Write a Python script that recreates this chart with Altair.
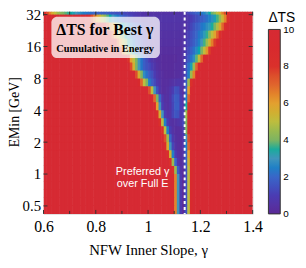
import altair as alt
import pandas as pd

# gamma cell edges (0.01 steps) and EMin row edges (quarter octaves)
gamma_edges = [round(0.60 + 0.01 * i, 2) for i in range(81)]
emin_edges = [0.4204, 0.5, 0.5946, 0.7071, 0.8409, 1.0, 1.1892, 1.4142, 1.6818,
              2.0, 2.3784, 2.8284, 3.3636, 4.0, 4.7568, 5.6569, 6.7272, 8.0,
              9.5137, 11.3137, 13.4543, 16.0, 19.0273, 22.6274, 26.9087, 32.0, 38.0546]

# per EMin row: first gamma column read inside the valley and the dTS values read there
# (everything outside is saturated at 10)
row_start = [49, 49, 49, 49, 49, 49, 48, 47, 46, 45, 45, 44, 43, 42, 41, 40, 36, 35, 33, 32,
             29, 27, 25, 23, 17, 0]
row_vals = [
    [9.5, 6.5, 3, 0.8, 0.1, 1.5, 5, 9],
    [9.5, 6.5, 3, 0.8, 0.1, 1.5, 5, 9],
    [9.5, 6.5, 3, 0.8, 0.1, 1.5, 5, 9],
    [9.5, 6.5, 3, 0.8, 0.1, 1.5, 5, 9],
    [9.5, 6.5, 3, 0.8, 0.1, 1.5, 5, 9],
    [8, 4.5, 1.8, 0.5, 0.2, 1.5, 5, 9],
    [8, 4.5, 2, 0.7, 0.3, 0.5, 2, 5.5, 9],
    [8.5, 5.5, 2.5, 1, 0.4, 0.3, 0.5, 2, 6, 9.5],
    [8.5, 5.5, 3, 1.2, 0.5, 0.3, 0.3, 0.6, 2.5, 7],
    [9.5, 7.5, 4.5, 2, 0.8, 0.4, 0.3, 0.3, 0.6, 3, 7.5],
    [8, 5, 2.5, 1, 0.5, 0.3, 0.3, 0.4, 0.8, 4, 8.5],
    [8, 5, 2.5, 1, 0.5, 0.4, 0.5, 0.6, 0.8, 1.2, 4, 8.5],
    [8.5, 5.5, 3, 1, 0.5, 0.6, 1.2, 1.6, 1.5, 0.8, 1, 4.5, 9],
    [9, 6, 3, 1, 0.5, 0.4, 0.6, 1.2, 1.8, 1.8, 1, 0.7, 3.5, 8],
    [9.5, 7, 4, 2, 0.8, 0.4, 0.4, 0.7, 1.3, 1.8, 1.7, 1, 0.5, 2.5, 7],
    [7.5, 5, 3, 1.5, 0.6, 0.3, 0.3, 0.4, 0.6, 1, 1.5, 1.4, 0.8, 0.4, 2, 6, 9.5],
    [9, 7, 5, 4, 2.5, 1.8, 1.3, 0.8, 0.5, 0.3, 0.3, 0.3, 0.4, 0.5, 0.6, 0.7, 0.7, 0.8,
     1.8, 4.5, 8],
    [7.5, 5.5, 4, 2.8, 2.2, 1.8, 1.5, 1, 0.6, 0.4, 0.3, 0.2, 0.2, 0.2, 0.2, 0.3, 0.3, 0.4,
     0.6, 1.5, 2.5, 4.5, 6.5, 9],
    [7.5, 5.5, 4, 3, 2.3, 1.8, 1.5, 1.3, 1, 0.7, 0.4, 0.3, 0.2, 0.2, 0.2, 0.2, 0.2, 0.3,
     0.3, 0.3, 0.5, 1.5, 2.2, 3.2, 4.5, 7, 9],
    [8, 6, 5, 4, 3, 2.3, 1.8, 1.4, 1, 0.7, 0.5, 0.3, 0.3, 0.2, 0.2, 0.2, 0.2, 0.2, 0.2,
     0.3, 0.3, 0.5, 1.2, 1.7, 2.2, 2.8, 3.8, 5.2, 7, 9],
    [8, 6.5, 5.5, 4.5, 3.8, 3.2, 2.6, 2.1, 1.7, 1.3, 1, 0.7, 0.5, 0.4, 0.3, 0.3, 0.3, 0.3,
     0.3, 0.3, 0.3, 0.3, 0.3, 0.3, 0.5, 1, 1.4, 1.8, 2.2, 2.7, 3.3, 4, 5, 6.2, 7.8, 9.5],
    [8.5, 7, 6, 5, 4.2, 3.5, 2.9, 2.4, 2, 1.6, 1.3, 1, 0.8, 0.6, 0.5, 0.4, 0.4, 0.4, 0.4,
     0.4, 0.4, 0.4, 0.4, 0.4, 0.4, 0.4, 0.5, 0.9, 1.2, 1.5, 1.8, 2.1, 2.5, 3, 3.7, 4.5,
     5.5, 6.6, 7.8, 9],
    [8.5, 7.2, 6.2, 5.4, 4.6, 4, 3.4, 2.9, 2.4, 2, 1.7, 1.4, 1.1, 0.9, 0.7, 0.6, 0.45,
     0.45, 0.45, 0.45, 0.45, 0.45, 0.45, 0.45, 0.45, 0.45, 0.45, 0.45, 0.45, 0.8, 1.1,
     1.4, 1.7, 2, 2.3, 2.6, 3.1, 3.6, 4.2, 5, 5.9, 7, 8.2, 9.5],
    [8.5, 7.3, 6.4, 5.6, 4.9, 4.3, 3.8, 3.3, 2.9, 2.5, 2.2, 1.9, 1.6, 1.4, 1.2, 1, 0.8,
     0.7, 0.55, 0.55, 0.55, 0.55, 0.55, 0.55, 0.55, 0.55, 0.55, 0.55, 0.55, 0.55, 0.55,
     0.55, 0.9, 1.2, 1.5, 1.8, 2, 2.3, 2.5, 2.8, 3.1, 3.5, 4, 4.8, 5.8, 7, 8.5, 9.8],
    [8.5, 7.5, 6.7, 6, 5.4, 4.8, 4.3, 3.8, 3.4, 3, 2.7, 2.4, 2.1, 1.8, 1.6, 1.4, 1.2, 1,
     0.9, 0.8, 0.7, 0.6, 0.6, 0.6, 0.6, 0.6, 0.6, 0.6, 0.6, 0.6, 0.6, 0.6, 0.6, 0.6, 0.6,
     0.6, 0.6, 0.6, 0.8, 1, 1.2, 1.4, 1.6, 1.8, 2, 2.2, 2.5, 2.8, 3.2, 3.7, 4.4, 5.3,
     6.5, 8, 9.5],
    [8.5, 7.5, 6.5, 5.6, 5, 4.5, 4.2, 4, 3.8, 3.6, 3.4, 3.2, 3, 2.8, 2.6, 2.4, 2.3, 2.2,
     2.1, 2, 1.95, 1.9, 1.85, 1.8, 1.75, 1.7, 1.6, 1.5, 1.45, 1.4, 1.3, 1.2, 1.1, 1, 0.9,
     0.8, 0.7, 0.6, 0.5, 0.5, 0.5, 0.5, 0.5, 0.5, 0.5, 0.5, 0.5, 0.5, 0.5, 0.5, 0.5, 0.5,
     0.5, 0.5, 0.8, 1.2, 1.5, 1.7, 1.9, 2.1, 2.3, 2.6, 3, 3.4, 3.9, 4.4, 5, 5.7, 6.6,
     7.6, 8.6, 9.5],
]

best_gamma = [1.14]
x_major = [0.6, 0.8, 1.0, 1.2, 1.4]
x_minor = [0.7, 0.9, 1.1, 1.3]
y_major = [0.5, 1, 2, 4, 8, 16, 32]
cbar_values = [0, 2, 4, 6, 8, 10]

recs = []
for k in range(len(emin_edges) - 1):
    for j in range(len(gamma_edges) - 1):
        v = 10.0
        i = j - row_start[k]
        if 0 <= i < len(row_vals[k]):
            v = row_vals[k][i]
        recs.append({"g0": gamma_edges[j], "g1": gamma_edges[j + 1],
                     "e0": emin_edges[k], "e1": emin_edges[k + 1], "v": v})
df = pd.DataFrame(recs)

W, H = 212, 205
serif = "Liberation Serif"
sans = "Liberation Sans"

xscale = alt.Scale(domain=[0.6, 1.4], nice=False, zero=False)
yscale = alt.Scale(type="log", domain=[0.4205, 34.1], nice=False)
cscale = alt.Scale(
    type="linear",
    domain=[-0.01, 1, 2, 3, 4, 5, 6, 7, 8, 9, 10.01],
    range=["#5a2996", "#4a3cb3", "#3966c8", "#4095bb", "#7db462", "#bdbd3e",
           "#e3a02f", "#e0652d", "#da302b", "#d82a2e", "#d62a33"],
)

x_axis = alt.Axis(title="NFW Inner Slope, γ", values=x_major, format="~g", ticks=False,
                  tickSize=0, domain=False, grid=False, labelFont=serif, labelFontSize=16,
                  labelColor="black", labelPadding=5, labelFlush=False, titleFont=serif,
                  titleFontSize=15, titleFontWeight="normal", titleColor="black",
                  titleY=41, titleBaseline="alphabetic")
y_axis = alt.Axis(title="EMin [GeV]", values=y_major, format="~g", ticks=False, tickSize=0,
                  domain=False, grid=False, labelFont=serif, labelFontSize=15,
                  labelColor="black", labelPadding=3, labelFlush=False, titleFont=serif,
                  titleFontSize=14, titleFontWeight="normal", titleColor="black",
                  titleX=-29, titleY=101.5, titleAngle=270, titleAlign="center",
                  titleBaseline="middle")

legend = alt.Legend(type="gradient", title="ΔTS", orient="none", legendX=228, legendY=-1,
                    direction="vertical", gradientLength=187, gradientThickness=12,
                    gradientStrokeColor="#333", gradientStrokeWidth=1, values=cbar_values,
                    labelFont=sans, labelFontSize=10, labelOffset=3, labelColor="black",
                    titleFont=sans, titleFontSize=14, titleFontWeight="normal",
                    titleColor="black", titlePadding=5, padding=0)

heat = alt.Chart(df).mark_rect(clip=True, x2Offset=0.6, y2Offset=-0.6).encode(
    x=alt.X("g0:Q", scale=xscale, axis=x_axis),
    x2="g1:Q",
    y=alt.Y("e0:Q", scale=yscale, axis=y_axis),
    y2="e1:Q",
    color=alt.Color("v:Q", scale=cscale, legend=legend),
)

dash = alt.Chart(pd.DataFrame({"g": best_gamma})).mark_rule(
    color="white", strokeDash=[3, 3], strokeWidth=2
).encode(x=alt.X("g:Q", scale=xscale, axis=x_axis))

tick_color = "#333"
xmaj = pd.DataFrame({"g": x_major})
xmin = pd.DataFrame({"g": x_minor})
ymaj = pd.DataFrame({"e": y_major})

def xticks(d, y0, y1):
    return alt.Chart(d).mark_rule(color=tick_color, strokeWidth=1).encode(
        x=alt.X("g:Q", scale=xscale, axis=x_axis), y=alt.value(y0), y2=alt.value(y1))

def yticks(d, x0, x1):
    return alt.Chart(d).mark_rule(color=tick_color, strokeWidth=1).encode(
        y=alt.Y("e:Q", scale=yscale, axis=y_axis), x=alt.value(x0), x2=alt.value(x1))

ticks = [xticks(xmaj, H, H - 4), xticks(xmaj, 0, 4), xticks(xmin, H, H - 3),
         xticks(xmin, 0, 3), yticks(ymaj, 0, 4), yticks(ymaj, W - 4, W)]

one = pd.DataFrame({"a": [0]})
box = alt.Chart(one).mark_rect(color="white", opacity=0.75, cornerRadius=6).encode(
    x=alt.value(8), x2=alt.value(118), y=alt.value(5), y2=alt.value(47))
t1 = alt.Chart(one).mark_text(text="ΔTS for Best γ", font=serif, fontSize=16,
                              fontWeight="bold", color="black", align="left",
                              baseline="alphabetic").encode(x=alt.value(13), y=alt.value(24))
t2 = alt.Chart(one).mark_text(text="Cumulative in Energy", font=serif, fontSize=10.5,
                              fontWeight="bold", color="black", align="left",
                              baseline="alphabetic").encode(x=alt.value(13), y=alt.value(41))
t3 = alt.Chart(one).mark_text(text="Preferred γ", font=sans, fontSize=11, color="white",
                              align="center", baseline="alphabetic").encode(
    x=alt.value(100.5), y=alt.value(166))
t4 = alt.Chart(one).mark_text(text="over Full E", font=sans, fontSize=11, color="white",
                              align="center", baseline="alphabetic").encode(
    x=alt.value(100.5), y=alt.value(178))

chart = alt.layer(heat, dash, *ticks, box, t1, t2, t3, t4).properties(
    width=W, height=H,
    autosize=alt.AutoSizeParams(type="none"),
    padding={"left": 36, "top": 2, "right": 46, "bottom": 46},
).configure_view(stroke="#555", strokeWidth=1).configure(background="white")

chart.save("out.html", embed_options={"renderer": "svg", "actions": False})
